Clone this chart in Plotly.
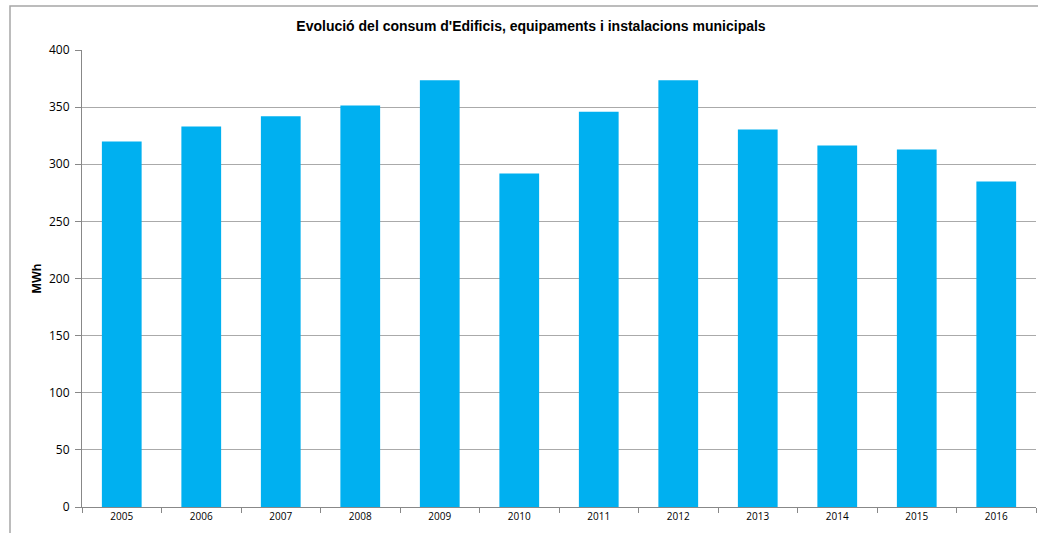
import plotly.graph_objects as go

# Annual consumption of municipal buildings, equipment and installations (MWh)
years = ["2005", "2006", "2007", "2008", "2009", "2010",
         "2011", "2012", "2013", "2014", "2015", "2016"]
consum_mwh = [320, 333, 342, 351.5, 373.5, 292, 346, 373.5, 330.5, 316.5, 313, 285]

title_text = "Evolució del consum d'Edificis, equipaments i instalacions municipals"
y_title = "MWh"

fig = go.Figure(
    go.Bar(
        x=years,
        y=consum_mwh,
        marker=dict(color="#00B0F0", line=dict(width=0)),
        hoverinfo="x+y",
    )
)

fig.update_layout(
    width=1038,
    height=533,
    margin=dict(l=82, r=2, t=50, b=26),
    paper_bgcolor="white",
    plot_bgcolor="white",
    bargap=0.5,
    showlegend=False,
    title=dict(
        text="<b>" + title_text + "</b>",
        x=531 / 1038,
        xanchor="center",
        xref="container",
        y=1 - 26 / 533,
        yanchor="middle",
        font=dict(family="Liberation Sans, Arial", size=14, color="black"),
    ),
    font=dict(family="Open Sans, Liberation Sans", color="black"),
)

fig.update_xaxes(
    type="category",
    showline=True,
    linecolor="#888888",
    linewidth=1,
    ticks="outside",
    tickson="boundaries",
    ticklen=5,
    tickcolor="#888888",
    tickfont=dict(size=10, family="Open Sans, Liberation Sans"),
    showgrid=False,
)

fig.update_yaxes(
    range=[0, 400],
    dtick=50,
    showline=True,
    linecolor="#888888",
    linewidth=1,
    ticks="outside",
    ticklen=6,
    tickcolor="#888888",
    showgrid=True,
    gridcolor="#aaaaaa",
    gridwidth=1.2,
    zeroline=False,
    ticklabelstandoff=3,
    tickfont=dict(size=12, family="Open Sans, Liberation Sans"),
    title=dict(
        text="<b>" + y_title + "</b>",
        font=dict(size=12.5, family="Liberation Sans, Arial"),
        standoff=4,
    ),
)

# Chart-area frame (extends past the right and bottom edges of the page)
fig.add_shape(
    type="rect",
    xref="paper",
    yref="paper",
    x0=(10 - 82) / 954,
    x1=1.02,
    y0=-0.2,
    y1=1 + 44 / 457,
    line=dict(color="#a6a6a6", width=1.5),
    fillcolor="rgba(0,0,0,0)",
    layer="below",
)

fig.write_html("out.html")
